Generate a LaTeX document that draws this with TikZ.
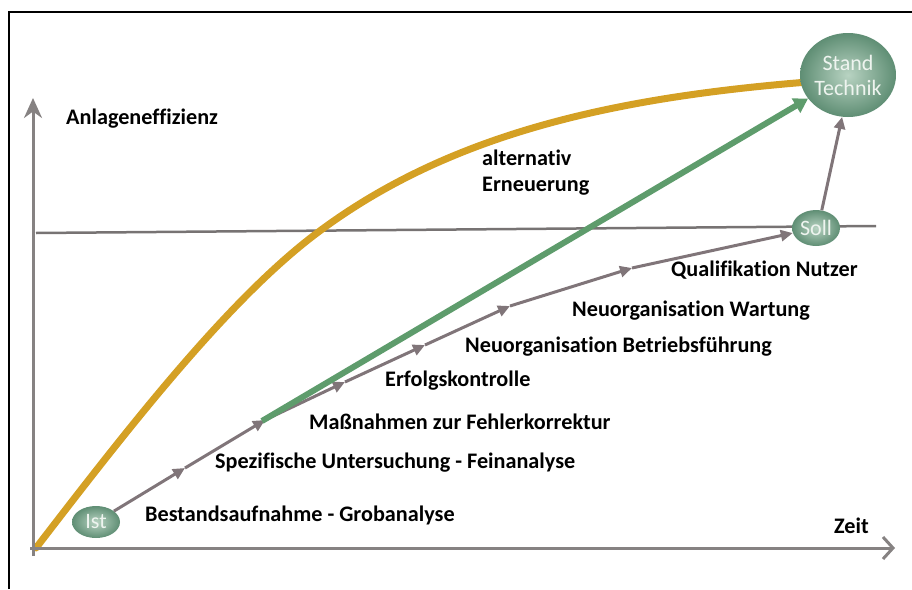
\documentclass[tikz,border=0pt]{standalone}
\usepackage{fontspec}
\setmainfont{Carlito}[Ligatures=NoCommon]
\usetikzlibrary{arrows.meta,shapes.geometric,backgrounds}
\definecolor{gold}{HTML}{D4A024}
\definecolor{grn}{HTML}{5E9C6C}
\definecolor{axgray}{HTML}{868282}
\definecolor{linegray}{HTML}{777373}
\definecolor{pathgray}{HTML}{807579}
\definecolor{nodedark}{HTML}{5F8E74}
\definecolor{nodelight}{HTML}{B8D3C2}
\definecolor{nodetext}{HTML}{EEF4EF}
\begin{document}
\begin{tikzpicture}[x=1pt,y=-1pt,
  lbl/.style={anchor=base west, font=\fontsize{22.2}{26}\selectfont\bfseries, text=black, inner sep=0pt},
  statenode/.style={ellipse, shading=radial, inner color=nodelight, outer color=nodedark,
     text=nodetext, font=\fontsize{22}{25}\selectfont, inner sep=0pt, align=center},
  axis/.style={draw=axgray, line width=3pt},
  seg/.style={draw=pathgray, line width=3pt, -{Triangle[length=12pt,width=11pt]}},
  greenarrow/.style={draw=grn, line width=6pt, -{Triangle[length=14pt,width=16pt]}},
  goldcurve/.style={draw=gold, line width=7pt, line cap=round},
  frameline/.style={draw=black, line width=1.5pt}
]
\useasboundingbox (0,0) rectangle (912,589);
\draw[frameline] (9,589) -- (9,12) -- (912,12);

% nodes
\node[statenode, minimum width=96pt, minimum height=84pt] (ST) at (848,75) {Stand\\Technik};
\node[statenode, minimum width=48pt, minimum height=36pt] (Soll) at (816,228) {Soll};
\node[statenode, minimum width=48pt, minimum height=32pt] (Ist) at (96,522) {Ist};

% axes
\coordinate (ytip) at (33,98);
\coordinate (xtip) at (895,548);
\coordinate (ybot) at (33,556);
\coordinate (xleft) at (30,548);
\draw[axis, -{Stealth[length=20pt,width=18pt]}] (ybot) -- (ytip);
\draw[axis, -{Straight Barb[length=10pt,width=22pt]}] (xleft) -- (xtip);

\begin{pgfonlayer}{background}
  \coordinate (hl) at (36,233);
  \coordinate (hr) at (876,226);
  \draw[draw=linegray, line width=2.5pt] (hl) -- (hr);
  \coordinate (c0) at (36,548);
  \coordinate (c1) at (317,233);
  \coordinate (c2) at (808,82);
  \draw[goldcurve] (c0) .. controls (126,431) and (227,300.5) .. (c1)
                        .. controls (447,135.5) and (608,98) .. (c2);
\end{pgfonlayer}

% gray path
\coordinate (p1) at (185,468);
\coordinate (p2) at (265,420);
\coordinate (p3) at (345,382);
\coordinate (p4) at (425,345);
\coordinate (p5) at (510,306);
\coordinate (p6) at (632,268);
\draw[seg] (Ist) -- (p1);
\draw[seg] (p1) -- (p2);
\draw[seg] (p2) -- (p3);
\draw[seg] (p3) -- (p4);
\draw[seg] (p4) -- (p5);
\draw[seg] (p5) -- (p6);
\draw[seg] (p6) -- (Soll);
\draw[seg] (Soll.72) -- (ST.262);

% green arrow
\coordinate (g0) at (262,421);
\draw[greenarrow] (g0) -- (ST);

% labels
\node[lbl] (t0) at (66,124) {Anlageneffizienz};
\node[lbl] (t1) at (834,533) {Zeit};
\node[lbl, align=left, anchor=north west] (t2) at (482,150) {alternativ\\Erneuerung};
\node[lbl] (t3) at (145,521) {Bestandsaufnahme - Grobanalyse};
\node[lbl] (t4) at (215,468) {Spezifische Untersuchung - Feinanalyse};
\node[lbl] (t5) at (309,429) {Maßnahmen zur Fehlerkorrektur};
\node[lbl] (t6) at (385,386) {Erfolgskontrolle};
\node[lbl] (t7) at (465,352) {Neuorganisation Betriebsführung};
\node[lbl] (t8) at (572,316) {Neuorganisation Wartung};
\node[lbl] (t9) at (671,276) {Qualifikation Nutzer};
\end{tikzpicture}
\end{document}
